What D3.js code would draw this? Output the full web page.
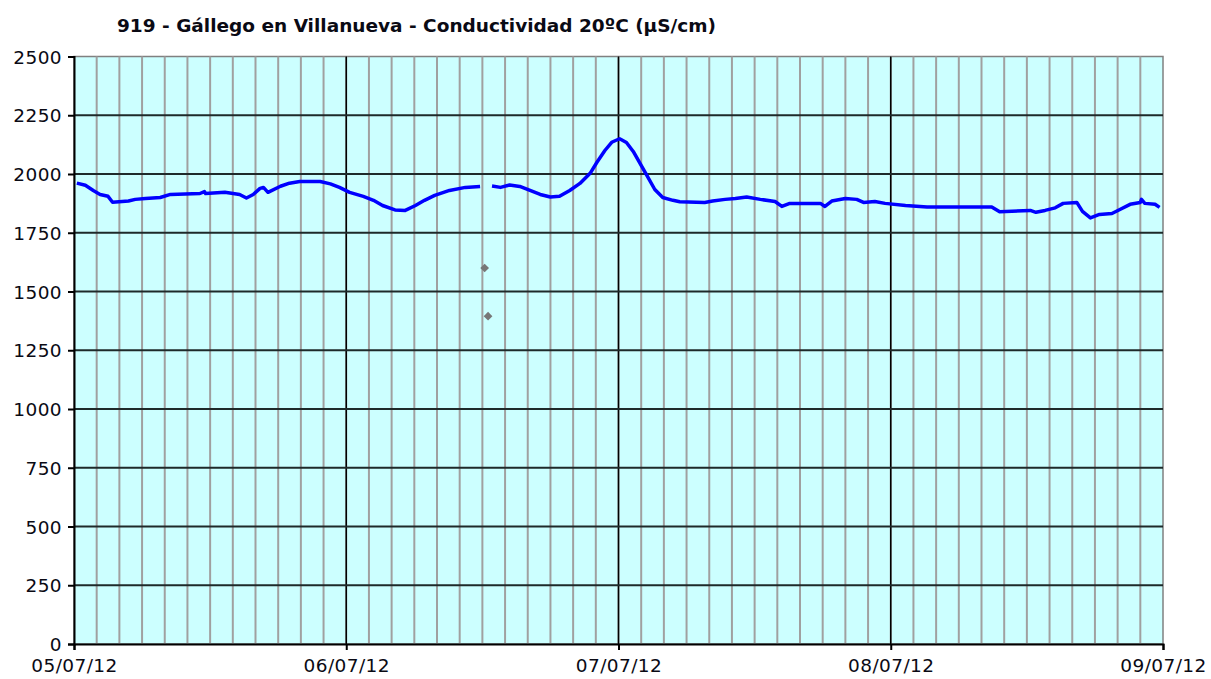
<!DOCTYPE html>
<head>
<meta charset="utf-8">
<title>Gállego en Villanueva</title>
<script src="https://d3js.org/d3.v7.min.js"></script>
<style>
  body { margin: 0; background: #fff; }
  text { font-family: "DejaVu Sans", Verdana, sans-serif; fill: #0a0a14; }
</style>
</head>
<body>
<div id="chart"></div>
<script>

// hours since 05/07/12 00:00 and conductivity values (null = gap)
var hours = [0.25, 1, 1.7, 2.3, 3, 3.4, 4.8, 5.4, 6.3, 7.6, 8.5, 11.1, 11.5, 11.6, 13.3, 14.6, 15.2, 15.8,
  16.4, 16.7, 17.1, 18.2, 19, 19.9, 21.7, 22.6, 23.4, 24.3, 25.5, 26.4, 27.2, 28.3, 29.2, 30.1, 30.9,
  31.8, 33.1, 34.5, 35.8, 36.2, 36.85, 37.6, 38.4, 39.3, 40.2, 41.1, 42, 42.8, 43.7, 44.6, 45.5, 46.1,
  46.8, 47.4, 48.1, 48.7, 49.3, 49.9, 50.5, 51.2, 51.9, 52.8, 53.4, 55.6, 56.3, 57.4, 58.3, 59.3, 60.5,
  61.8, 62.4, 63.1, 65.8, 66.2, 66.8, 68, 69, 69.6, 70.6, 71.5, 73.3, 75.2, 80.9, 81.6, 84.3, 84.8,
  85.6, 86.5, 87.2, 88.4, 88.9, 89.6, 90.4, 91.5, 92.2, 93.1, 94, 94.1, 94.4, 95.3, 95.7];
var conductividad = [1961, 1952, 1930, 1913, 1905, 1880, 1885, 1892, 1896, 1900, 1913, 1917, 1925, 1917,
  1922, 1913, 1898, 1913, 1939, 1943, 1922, 1948, 1961, 1968, 1968, 1958, 1943, 1922, 1905, 1888, 1866,
  1847, 1845, 1866, 1888, 1909, 1930, 1943, 1947, null, 1949, 1943, 1953, 1947, 1930, 1913, 1902, 1905,
  1930, 1960, 2003, 2050, 2100, 2135, 2150, 2134, 2096, 2045, 1994, 1934, 1900, 1888, 1882, 1879, 1885,
  1892, 1896, 1902, 1892, 1883, 1862, 1875, 1875, 1862, 1885, 1896, 1892, 1879, 1883, 1875, 1866, 1860,
  1860, 1839, 1845, 1837, 1845, 1856, 1875, 1879, 1841, 1813, 1828, 1832, 1849, 1871, 1879, 1892, 1875,
  1871, 1858];

// isolated readings shown as markers
var outlierHours = [36.2, 36.5];
var outlierValues = [1600, 1395];

var yTicks = [0, 250, 500, 750, 1000, 1250, 1500, 1750, 2000, 2250, 2500];
var title = "919 - Gállego en Villanueva - Conductividad 20ºC (µS/cm)";

var start = new Date(2012, 6, 5, 0, 0);
var end = new Date(2012, 6, 9, 0, 0);
function toDate(h) { return new Date(start.getTime() + h * 3600000); }

var margin = {top: 56.5, right: 48, bottom: 35, left: 74},
    width = 1211 - margin.left - margin.right,
    height = 679 - margin.top - margin.bottom;

var svg = d3.select("#chart")
  .append("svg")
    .attr("width", 1211)
    .attr("height", 679);

svg.append("text")
  .attr("x", 117)
  .attr("y", 32)
  .style("font-weight", "bold")
  .style("font-size", "18.5px")
  .text(title);

var g = svg.append("g")
  .attr("transform", "translate(" + margin.left + "," + margin.top + ")");

var x = d3.scaleTime().domain([start, end]).range([0, width]);
var y = d3.scaleLinear().domain([0, 2500]).range([height, 0]);

g.append("rect")
  .attr("width", width)
  .attr("height", height)
  .attr("fill", "#ccffff")
  .attr("stroke", "#808080")
  .attr("stroke-width", 1.5);

// minor vertical grid every 2 hours
g.selectAll(".minor")
  .data(d3.timeHour.every(2).range(start, end))
  .enter().append("line")
    .attr("x1", function(d) { return x(d); })
    .attr("x2", function(d) { return x(d); })
    .attr("y1", 0)
    .attr("y2", height)
    .attr("stroke", "#a0a0a0")
    .attr("stroke-width", 2);

// major vertical lines per day
g.selectAll(".major")
  .data(d3.timeDay.range(start, end).slice(1))
  .enter().append("line")
    .attr("x1", function(d) { return x(d); })
    .attr("x2", function(d) { return x(d); })
    .attr("y1", 0)
    .attr("y2", height)
    .attr("stroke", "#000")
    .attr("stroke-width", 1.5);

// horizontal grid
g.selectAll(".hgrid")
  .data(yTicks.slice(1, -1))
  .enter().append("line")
    .attr("x1", 0)
    .attr("x2", width)
    .attr("y1", function(d) { return y(d); })
    .attr("y2", function(d) { return y(d); })
    .attr("stroke", "#1e2a2a")
    .attr("stroke-width", 2);

var yAxis = g.append("g")
  .call(d3.axisLeft(y).tickValues(yTicks).tickFormat(d3.format("d")).tickSize(6).tickPadding(6));
var xAxis = g.append("g")
  .attr("transform", "translate(0," + height + ")")
  .call(d3.axisBottom(x).ticks(d3.timeDay.every(1)).tickFormat(d3.timeFormat("%d/%m/%y"))
    .tickSize(6).tickPadding(6));

[yAxis, xAxis].forEach(function(a) {
  a.select(".domain").attr("stroke", "#000").attr("stroke-width", 2);
  a.selectAll(".tick line").attr("stroke", "#000").attr("stroke-width", 2);
  a.selectAll("text")
    .style("font-size", "18.5px")
    .style("letter-spacing", "0.4px")
    .style("font-family", "'DejaVu Sans', Verdana, sans-serif")
    .attr("fill", "#0a0a14");
});
xAxis.selectAll("text").attr("dy", "0.85em");
yAxis.selectAll("text").attr("dy", "0.36em");

var line = d3.line()
  .defined(function(d) { return d[1] !== null; })
  .x(function(d) { return x(toDate(d[0])); })
  .y(function(d) { return y(d[1]); });

g.append("path")
  .datum(d3.zip(hours, conductividad))
  .attr("fill", "none")
  .attr("stroke", "#0000ff")
  .attr("stroke-width", 3.5)
  .attr("stroke-linejoin", "round")
  .attr("d", line);

g.selectAll(".outlier")
  .data(d3.zip(outlierHours, outlierValues))
  .enter().append("path")
    .attr("transform", function(d) {
      return "translate(" + x(toDate(d[0])) + "," + y(d[1]) + ")rotate(45)";
    })
    .attr("d", d3.symbol().type(d3.symbolSquare).size(38))
    .attr("fill", "#777");

</script>
</body>
